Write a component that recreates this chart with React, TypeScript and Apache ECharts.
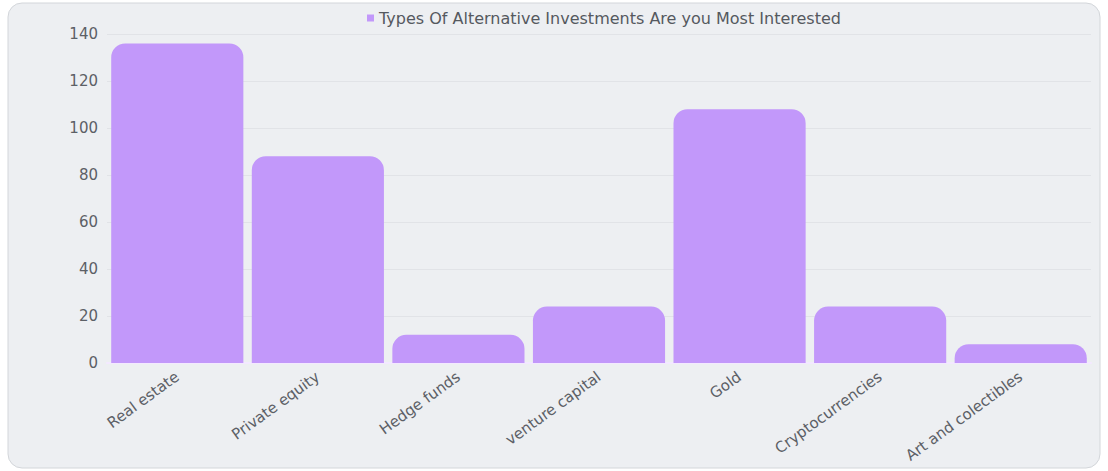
import React, { useEffect, useRef } from "react";
import * as echarts from "echarts";

const categories = [
  "Real estate",
  "Private equity",
  "Hedge funds",
  "venture capital",
  "Gold",
  "Cryptocurrencies",
  "Art and colectibles",
];
const values = [136, 88, 12, 24, 108, 24, 8];
const seriesName = "Types Of Alternative Investments Are you Most Interested";

export default function App() {
  const ref = useRef<HTMLDivElement>(null);
  useEffect(() => {
    if (!ref.current) return;
    const chart = echarts.init(ref.current, undefined, { renderer: "svg" });
    chart.setOption({
      animation: false,
      backgroundColor: "#ffffff",
      textStyle: { fontFamily: "'DejaVu Sans', Verdana, sans-serif" },
      graphic: [
        {
          type: "rect",
          z: -10,
          shape: { x: 8, y: 3, width: 1092, height: 465, r: 14 },
          style: { fill: "#edeff2", stroke: "#d3d6da", lineWidth: 1 },
        },
      ],
      legend: {
        top: 5,
        left: 362,
        itemWidth: 7,
        itemHeight: 7,
        itemGap: 6,
        icon: "rect",
        textStyle: { color: "#55595f", fontSize: 16 },
        data: [seriesName],
      },
      grid: { left: 107, right: 17, top: 34, bottom: 108 },
      xAxis: {
        type: "category",
        data: categories,
        axisTick: { show: false },
        axisLine: { show: true, lineStyle: { color: "#f3e9ff", width: 2 } },
        axisLabel: {
          rotate: 36,
          color: "#5c6066",
          fontSize: 15,
          margin: 12,
          interval: 0,
        },
      },
      yAxis: {
        type: "value",
        min: 0,
        max: 140,
        interval: 20,
        axisLabel: { color: "#5c6066", fontSize: 15, margin: 9 },
        splitLine: { lineStyle: { color: "#e1e3e7", width: 1 } },
      },
      series: [
        {
          name: seriesName,
          type: "bar",
          data: values,
          barCategoryGap: "6%",
          itemStyle: { color: "#c298fa", borderRadius: [14, 14, 0, 0] },
        },
      ],
    });
    return () => chart.dispose();
  }, []);
  return (
    <div
      ref={ref}
      style={{ position: "fixed", left: 0, top: 0, width: 1108, height: 471 }}
    />
  );
}
